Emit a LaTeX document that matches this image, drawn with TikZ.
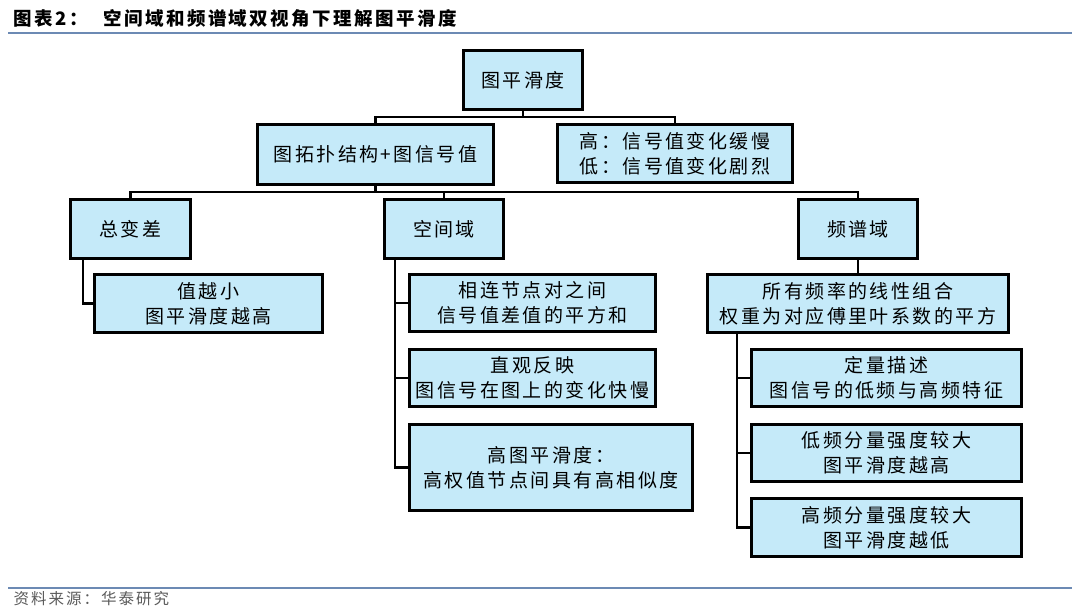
\documentclass[tikz,border=0pt]{standalone}
\usepackage{fontspec}
\setmainfont{Noto Sans CJK SC}[LetterSpace=13]
\usepackage{tikz}
\usetikzlibrary{positioning}
\definecolor{boxblue}{RGB}{197,234,249}
\definecolor{ruleblue}{RGB}{108,138,180}
\definecolor{srcgray}{RGB}{90,90,90}

\begin{document}
\begin{tikzpicture}[x=1pt, y=-1pt,
        blk/.style = {draw = black, line width = 3.5pt, fill = boxblue, align = center,
            inner sep = 0pt, font = \fontsize{19}{25}\selectfont},
        link/.style = {line width = 2.6pt}]
                \useasboundingbox (0, 0) rectangle (1080, 612);

                \node [anchor = west, font = \fontsize{18.5}{22}\selectfont\bfseries] (fig) at (10, 18) {图表2：};
                \node [anchor = west, font = \fontsize{18.5}{22}\selectfont\bfseries] (title) at (100, 18) {空间域和频谱域双视角下理解图平滑度};
                \draw [ruleblue, line width = 2pt] (8, 33) -- (1072, 33);
                \draw [ruleblue, line width = 2pt] (8, 588) -- (1072, 588);
                \node [anchor = west, srcgray, font = \fontsize{15.5}{18}\selectfont] (src) at (10, 599) {资料来源：华泰研究};

                \node [blk, minimum width = 119, minimum height = 59] (root) at (523, 80) {图平滑度};
                \node [blk, minimum width = 236, minimum height = 60] (topo) at (375.5, 154.5) {图拓扑结构+图信号值};
                \node [blk, minimum width = 235, minimum height = 58] (hilo) at (675, 153.5) {高：信号值变化缓慢\\低：信号值变化剧烈};

                \node [blk, minimum width = 120, minimum height = 59] (tv) at (130.5, 229) {总变差};
                \node [blk, minimum width = 119, minimum height = 59] (spat) at (444, 229) {空间域};
                \node [blk, minimum width = 119, minimum height = 59] (freq) at (858, 229) {频谱域};

                \node [blk, minimum width = 228, minimum height = 58] (tvsm) at (208.5, 303.5) {值越小\\图平滑度越高};

                \node [blk, minimum width = 246, minimum height = 57] (spdiff) at (532.5, 303) {相连节点对之间\\信号值差值的平方和};
                \node [blk, minimum width = 246, minimum height = 57] (spview) at (532.5, 378) {直观反映\\图信号在图上的变化快慢};
                \node [blk, minimum width = 283, minimum height = 86] (sphigh) at (551, 467.5) {高图平滑度：\\高权值节点间具有高相似度};

                \node [blk, minimum width = 301, minimum height = 58] (fqsum) at (858, 303.5) {所有频率的线性组合\\权重为对应傅里叶系数的平方};
                \node [blk, minimum width = 270, minimum height = 57] (fqdesc) at (886.5, 378) {定量描述\\图信号的低频与高频特征};
                \node [blk, minimum width = 270, minimum height = 57] (fqlow) at (886.5, 453) {低频分量强度较大\\图平滑度越高};
                \node [blk, minimum width = 270, minimum height = 58] (fqhigh) at (886.5, 527.5) {高频分量强度较大\\图平滑度越低};

                \coordinate (bartop) at (523, 117);
                \coordinate (barmid) at (375.5, 192);
                \coordinate (tvx) at (83, 0);
                \coordinate (spx) at (395, 0);
                \coordinate (fqx) at (737, 0);

                \draw [link] (root.south) -- (bartop);
                \draw [link] (topo.north) |- (bartop) -| (hilo.north);
                \draw [link] (topo.south) -- (barmid);
                \draw [link] (tv.north) |- (barmid) -| (freq.north);
                \draw [link] (barmid) -| (spat.north);
                \draw [link] (freq.south) -- (fqsum.north);

                \draw [link] (tv.south -| tvx) |- (tvsm.west);
                \draw [link] (spat.south -| spx) |- (spdiff.west);
                \draw [link] (spat.south -| spx) |- (spview.west);
                \draw [link] (spat.south -| spx) |- (sphigh.west);
                \draw [link] (fqsum.south -| fqx) |- (fqdesc.west);
                \draw [link] (fqsum.south -| fqx) |- (fqlow.west);
                \draw [link] (fqsum.south -| fqx) |- (fqhigh.west);
            \end{tikzpicture}
\end{document}
